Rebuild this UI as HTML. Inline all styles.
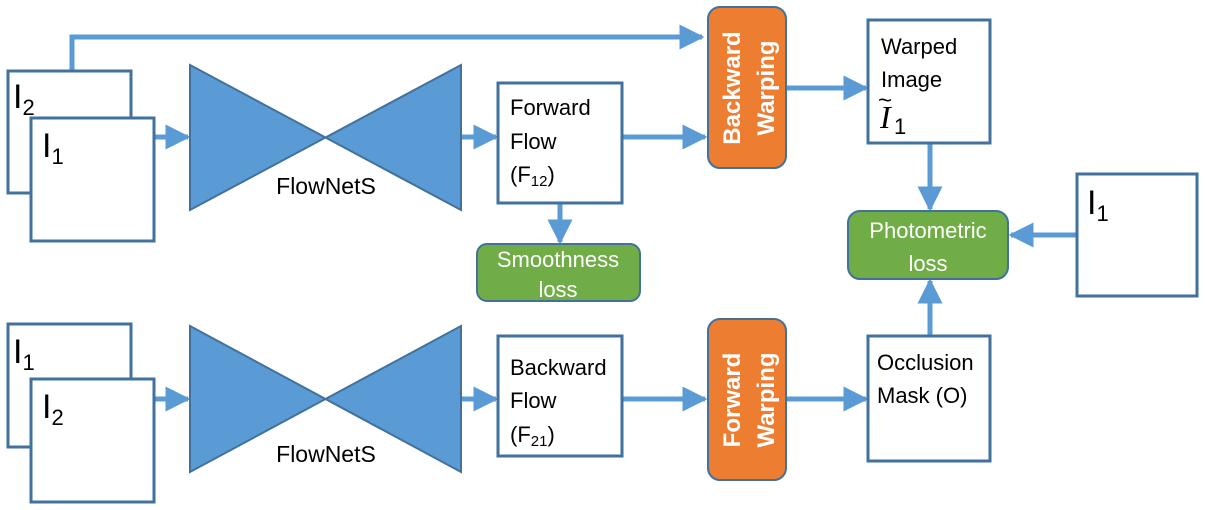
<!DOCTYPE html>
<html><head><meta charset="utf-8"><style>
html,body{margin:0;padding:0;background:#fff;}
svg{display:block;font-family:"Liberation Sans",sans-serif;}
</style></head><body>
<svg width="1206" height="510" viewBox="0 0 1206 510" xmlns="http://www.w3.org/2000/svg">
<defs>
<marker id="a" markerWidth="5" markerHeight="5" refX="4.5" refY="2.5" orient="auto" markerUnits="strokeWidth">
<path d="M0,0 L5,2.5 L0,5 z" fill="#5B9BD5"/></marker>
</defs>
<g stroke="#5B9BD5" stroke-width="5" fill="none">
<path d="M72,71 V37 H702" marker-end="url(#a)"/>
<path d="M154,137 H188" marker-end="url(#a)"/>
<path d="M461,137 H496" marker-end="url(#a)"/>
<path d="M622,137 H705" marker-end="url(#a)"/>
<path d="M786,88 H866" marker-end="url(#a)"/>
<path d="M560,203 V242" marker-end="url(#a)"/>
<path d="M930,143 V209" marker-end="url(#a)"/>
<path d="M1077,235 H1011" marker-end="url(#a)"/>
<path d="M930,336 V281" marker-end="url(#a)"/>
<path d="M154,399 H188" marker-end="url(#a)"/>
<path d="M461,399 H496" marker-end="url(#a)"/>
<path d="M622,399 H705" marker-end="url(#a)"/>
<path d="M786,399 H866" marker-end="url(#a)"/>
</g>
<g fill="#fff" stroke="#41719C" stroke-width="3">
<rect x="8" y="71" width="123" height="122"/>
<rect x="31" y="118" width="123" height="123"/>
<rect x="8" y="324" width="123" height="123"/>
<rect x="31" y="379" width="123" height="123"/>
<rect x="498" y="83" width="124" height="120"/>
<rect x="498" y="336" width="124" height="120"/>
<rect x="868" y="20" width="122" height="123"/>
<rect x="868" y="336" width="122" height="125"/>
<rect x="1077" y="174" width="120" height="122"/>
</g>
<g fill="#5B9BD5" stroke="#41719C" stroke-width="2">
<path d="M190,65 L461,210 L461,65 L190,210 Z"/>
<path d="M190,326 L461,472 L461,326 L190,472 Z"/>
</g>
<g stroke="#41719C" stroke-width="2">
<rect x="708" y="7" width="78" height="161" rx="12" fill="#ED7D31"/>
<rect x="708" y="319" width="78" height="161" rx="12" fill="#ED7D31"/>
<rect x="848" y="211" width="160" height="68" rx="12" fill="#70AD47"/>
<rect x="477" y="244" width="163" height="57" rx="10" fill="#70AD47"/>
</g>
<g fill="#000" font-size="22">
<text x="13" y="108" font-size="34">I<tspan font-size="22" dy="7">2</tspan></text>
<text x="42" y="157" font-size="34">I<tspan font-size="22" dy="7">1</tspan></text>
<text x="13" y="363" font-size="34">I<tspan font-size="22" dy="7">1</tspan></text>
<text x="42" y="418" font-size="34">I<tspan font-size="22" dy="7">2</tspan></text>
<text x="1087" y="214" font-size="34">I<tspan font-size="22" dy="7">1</tspan></text>
<text x="326" y="194" text-anchor="middle" font-size="23">FlowNetS</text>
<text x="326" y="462" text-anchor="middle" font-size="23">FlowNetS</text>
<text x="510" y="115">Forward</text>
<text x="510" y="149">Flow</text>
<text x="510" y="182">(F<tspan font-size="15" dy="4">12</tspan><tspan dy="-4">)</tspan></text>
<text x="510" y="375">Backward</text>
<text x="510" y="408">Flow</text>
<text x="510" y="442">(F<tspan font-size="15" dy="4">21</tspan><tspan dy="-4">)</tspan></text>
<text x="881" y="54">Warped</text>
<text x="881" y="87">Image</text>
<text x="880" y="128" font-family="Liberation Serif,serif" font-style="italic" font-size="32">I</text>
<text x="878" y="108" font-size="24">~</text>
<text x="894" y="134" font-size="22">1</text>
<text x="877" y="370">Occlusion</text>
<text x="877" y="403">Mask (O)</text>
</g>
<g fill="#fff" font-size="22" text-anchor="middle">
<text x="928" y="238">Photometric</text>
<text x="928" y="271">loss</text>
<text x="558" y="267">Smoothness</text>
<text x="558" y="297">loss</text>
<g font-size="24" font-weight="bold">
<text transform="translate(740,88) rotate(-90)">Backward</text>
<text transform="translate(774,88) rotate(-90)">Warping</text>
<text transform="translate(740,400) rotate(-90)">Forward</text>
<text transform="translate(774,400) rotate(-90)">Warping</text>
</g>
</g>
</svg>
</body></html>
